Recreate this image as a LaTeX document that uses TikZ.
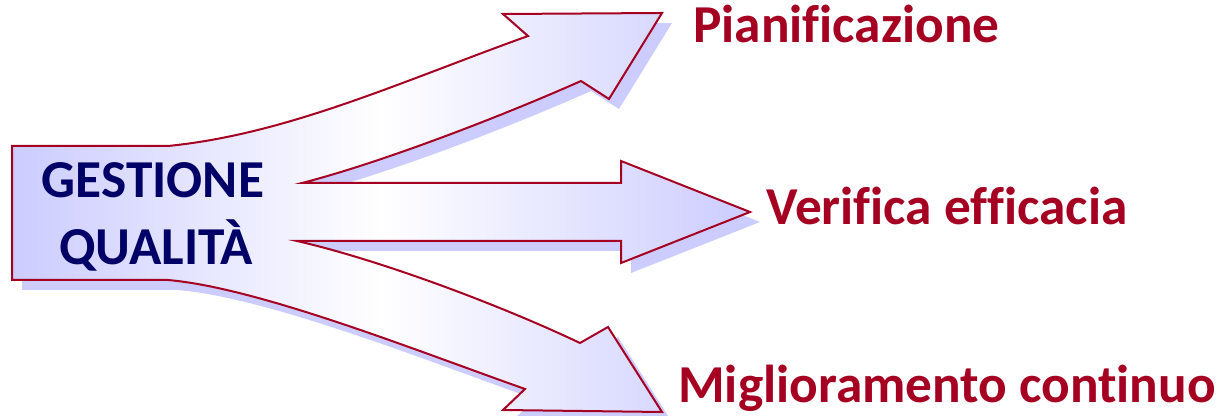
\documentclass[tikz,border=0pt]{standalone}
\usepackage{fontspec}
\setmainfont{Carlito}[Ligatures=NoCommon]
\definecolor{lilac}{RGB}{204,204,255}
\definecolor{shadowlilac}{RGB}{204,204,255}
\definecolor{crimson}{RGB}{165,0,33}
\definecolor{navy}{RGB}{0,0,102}
\tikzset{
  titletext/.style={font=\bfseries\fontsize{40}{44}\selectfont, text=navy, inner sep=0pt, anchor=base},
  labeltext/.style={font=\bfseries\fontsize{40}{44}\selectfont, text=crimson, inner sep=0pt, anchor=base west},
  outline/.style={draw=crimson, line width=1.5pt, line join=miter},
}
% three-way arrow outline, in pixel units (y pointing down)
\def\forkpath{
  (12,146) -- (168,146)
  .. controls (288,134) and (400,82) .. (528,36)
  -- (503,14) -- (662,13) -- (609,99) -- (581,81)
  .. controls (500,117) and (380,163) .. (302,183)
  -- (621,183) -- (621,161) -- (750,212) -- (621,263) -- (621,241) -- (297,241)
  .. controls (380,260) and (500,305) .. (580,343)
  -- (608,327) -- (662,412) -- (503,410) -- (525,389)
  .. controls (420,352) and (260,288) .. (168,280)
  -- (12,280) -- cycle
}
\begin{document}
\begin{tikzpicture}[x=0.75pt,y=-0.75pt]
  \useasboundingbox (0,0) rectangle (1221,416);
  % drop shadow
  \begin{scope}[shift={(10,10)}]
    \fill[shadowlilac] \forkpath;
  \end{scope}
  % shaded body
  \shade[left color=lilac, right color=lilac, middle color=white] \forkpath;
  \draw[outline] \forkpath;
  % title
  \node[titletext] (gestione) at (153,198) {GESTIONE};
  \node[titletext] (qualita) at (156,265) {QUALITÀ};
  % outcomes
  \node[labeltext] (pian) at (693,43) {Pianificazione};
  \node[labeltext] (verif) at (766,225) {Verifica efficacia};
  \node[labeltext] (migl) at (678,403) {Miglioramento continuo};
\end{tikzpicture}
\end{document}
